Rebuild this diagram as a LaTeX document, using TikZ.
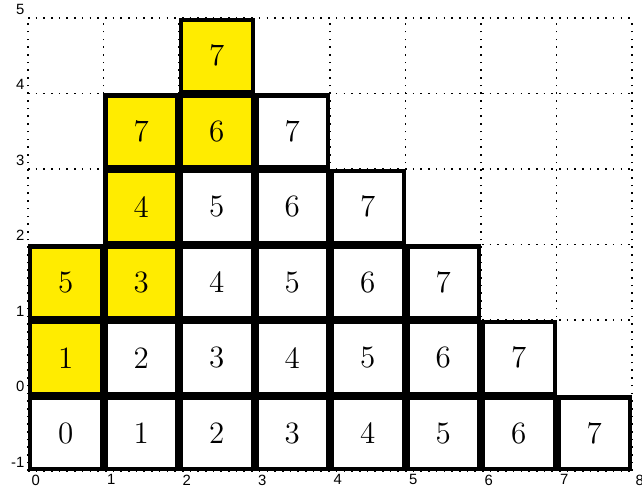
\documentclass[tikz,border=0pt]{standalone}
\usepackage{fontspec}
\newfontfamily\axisfont{Liberation Sans}
\definecolor{cellyellow}{RGB}{255,236,0}
\tikzset{
  gridline/.style={line width=0.6pt, dash pattern=on 0.6pt off 2.3pt, black},
  cell/.style={draw=black, line width=1.6pt, fill=white, minimum size=0.95cm, inner sep=0pt,
    font=\fontsize{11.7}{14}\selectfont},
  hot/.style={cell, fill=cellyellow},
  axlab/.style={font=\axisfont\fontsize{5.6}{6}\selectfont, inner sep=0.6pt}
}
\begin{document}
\begin{tikzpicture}[x=1cm,y=1cm]
\useasboundingbox (-0.371,-1.312) rectangle (8.132,5.239);
\draw[gridline] (0,-1) grid (8,5);
% axis labels
\foreach \i in {0,...,8} {
  \node[axlab, anchor=north west] (xl\i) at (\i+0.02,-1.02) {\i};
}
\foreach \j in {-1,...,5} {
  \node[axlab, anchor=south east] (yl\j) at (-0.02,\j+0.02) {\j};
}
% row -1
\foreach \i in {0,...,7} {
  \node[cell] (r0c\i) at (\i+0.5,-0.5) {\i};
}
% row 0
\node[hot] (r1c0) at (0.5,0.5) {1};
\node[cell] (r1c1) at (1.5,0.5) {2};
\node[cell] (r1c2) at (2.5,0.5) {3};
\node[cell] (r1c3) at (3.5,0.5) {4};
\node[cell] (r1c4) at (4.5,0.5) {5};
\node[cell] (r1c5) at (5.5,0.5) {6};
\node[cell] (r1c6) at (6.5,0.5) {7};
% row 1
\node[hot] (r2c0) at (0.5,1.5) {5};
\node[hot] (r2c1) at (1.5,1.5) {3};
\node[cell] (r2c2) at (2.5,1.5) {4};
\node[cell] (r2c3) at (3.5,1.5) {5};
\node[cell] (r2c4) at (4.5,1.5) {6};
\node[cell] (r2c5) at (5.5,1.5) {7};
% row 2
\node[hot] (r3c1) at (1.5,2.5) {4};
\node[cell] (r3c2) at (2.5,2.5) {5};
\node[cell] (r3c3) at (3.5,2.5) {6};
\node[cell] (r3c4) at (4.5,2.5) {7};
% row 3
\node[hot] (r4c1) at (1.5,3.5) {7};
\node[hot] (r4c2) at (2.5,3.5) {6};
\node[cell] (r4c3) at (3.5,3.5) {7};
% row 4
\node[hot] (r5c2) at (2.5,4.5) {7};
\end{tikzpicture}
\end{document}
